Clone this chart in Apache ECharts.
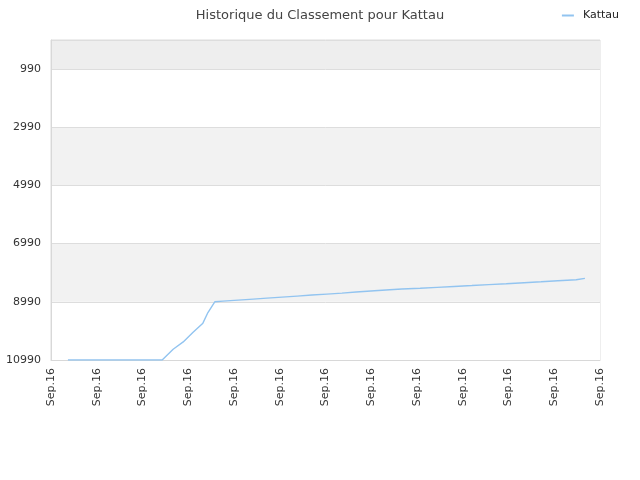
<!DOCTYPE html>
<html>
<head>
<meta charset="utf-8">
<script src="https://cdn.jsdelivr.net/npm/echarts@6/dist/echarts.min.js"></script>
<style>html,body{margin:0;padding:0;background:#fff;}#c{width:640px;height:480px;}</style>
</head>
<body>
<div id="c"></div>
<script>
const title = 'Historique du Classement pour Kattau';
const seriesName = 'Kattau';
const xTickLabel = 'Sep.16';
const yTickLabels = ['10990', '8990', '6990', '4990', '2990', '990'];
const xPos = [0.37, 2.43, 2.67, 2.89, 3.10, 3.32, 3.43, 3.58, 3.76, 4.09, 4.42, 4.72, 5.05, 5.38, 5.70, 6.03, 6.36, 6.67, 6.99, 7.32, 7.67, 8.07, 8.44, 8.81, 9.20, 9.57, 9.95, 10.34, 10.71, 11.08, 11.48, 11.67];
const ranks = [10990, 10990, 10621, 10369, 10048, 9724, 9359, 8990, 8965, 8931, 8896, 8862, 8827, 8793, 8758, 8724, 8690, 8655, 8620, 8586, 8551, 8524, 8493, 8462, 8431, 8400, 8369, 8334, 8300, 8265, 8231, 8186];

const data = xPos.map((x, i) => [x, ranks[i]]);
const chart = echarts.init(document.getElementById('c'));
chart.setOption({
  animation: false,
  backgroundColor: '#fff',
  title: {
    text: title, left: 'center', top: 4,
    textStyle: { fontFamily: 'DejaVu Sans', fontSize: 13, fontWeight: 'normal', color: '#444' }
  },
  legend: {
    right: 16, top: 5, icon: 'rect', itemWidth: 12, itemHeight: 2, itemGap: 6,
    textStyle: { fontFamily: 'DejaVu Sans', fontSize: 11, color: '#222', padding: [0, 0, 0, 4] },
    data: [seriesName]
  },
  grid: { left: 51, right: 40, top: 40, bottom: 120, show: true, borderColor: '#dddddd', borderWidth: 1, backgroundColor: 'transparent' },
  xAxis: {
    type: 'value', min: 0, max: 12, interval: 1,
    axisLine: { show: true, lineStyle: { color: '#d8d8d8' } },
    axisTick: { show: false },
    splitLine: { show: false },
    axisLabel: {
      rotate: 90, margin: 8, color: '#333', fontFamily: 'DejaVu Sans', fontSize: 11,
      formatter: () => xTickLabel, showMinLabel: true, showMaxLabel: true
    }
  },
  yAxis: [
    {
      type: 'value', min: 0, max: 11000, interval: 2000,
      axisLine: { show: true, lineStyle: { color: '#d8d8d8' } },
      axisTick: { show: false },
      splitLine: { show: true, lineStyle: { color: '#dddddd' } },
      splitArea: { show: true, areaStyle: { color: ['#ffffff', '#f2f2f2', '#ffffff', '#f2f2f2', '#ffffff', '#eeeeee'] } },
      axisLabel: {
        color: '#333', fontFamily: 'DejaVu Sans', fontSize: 11, margin: 10, showMaxLabel: false,
        formatter: (v) => { const i = Math.round(v / 2000); return v % 2000 === 0 && yTickLabels[i] ? yTickLabels[i] : ''; }
      }
    },
    { type: 'value', inverse: true, min: -10, max: 10990, show: false, splitLine: { show: false } }
  ],
  series: [{
    name: seriesName, type: 'line', yAxisIndex: 1, data: data,
    showSymbol: false, symbol: 'none',
    lineStyle: { color: '#92c4f0', width: 1.4 },
    itemStyle: { color: '#92c4f0' }
  }]
});
</script>
</body>
</html>
